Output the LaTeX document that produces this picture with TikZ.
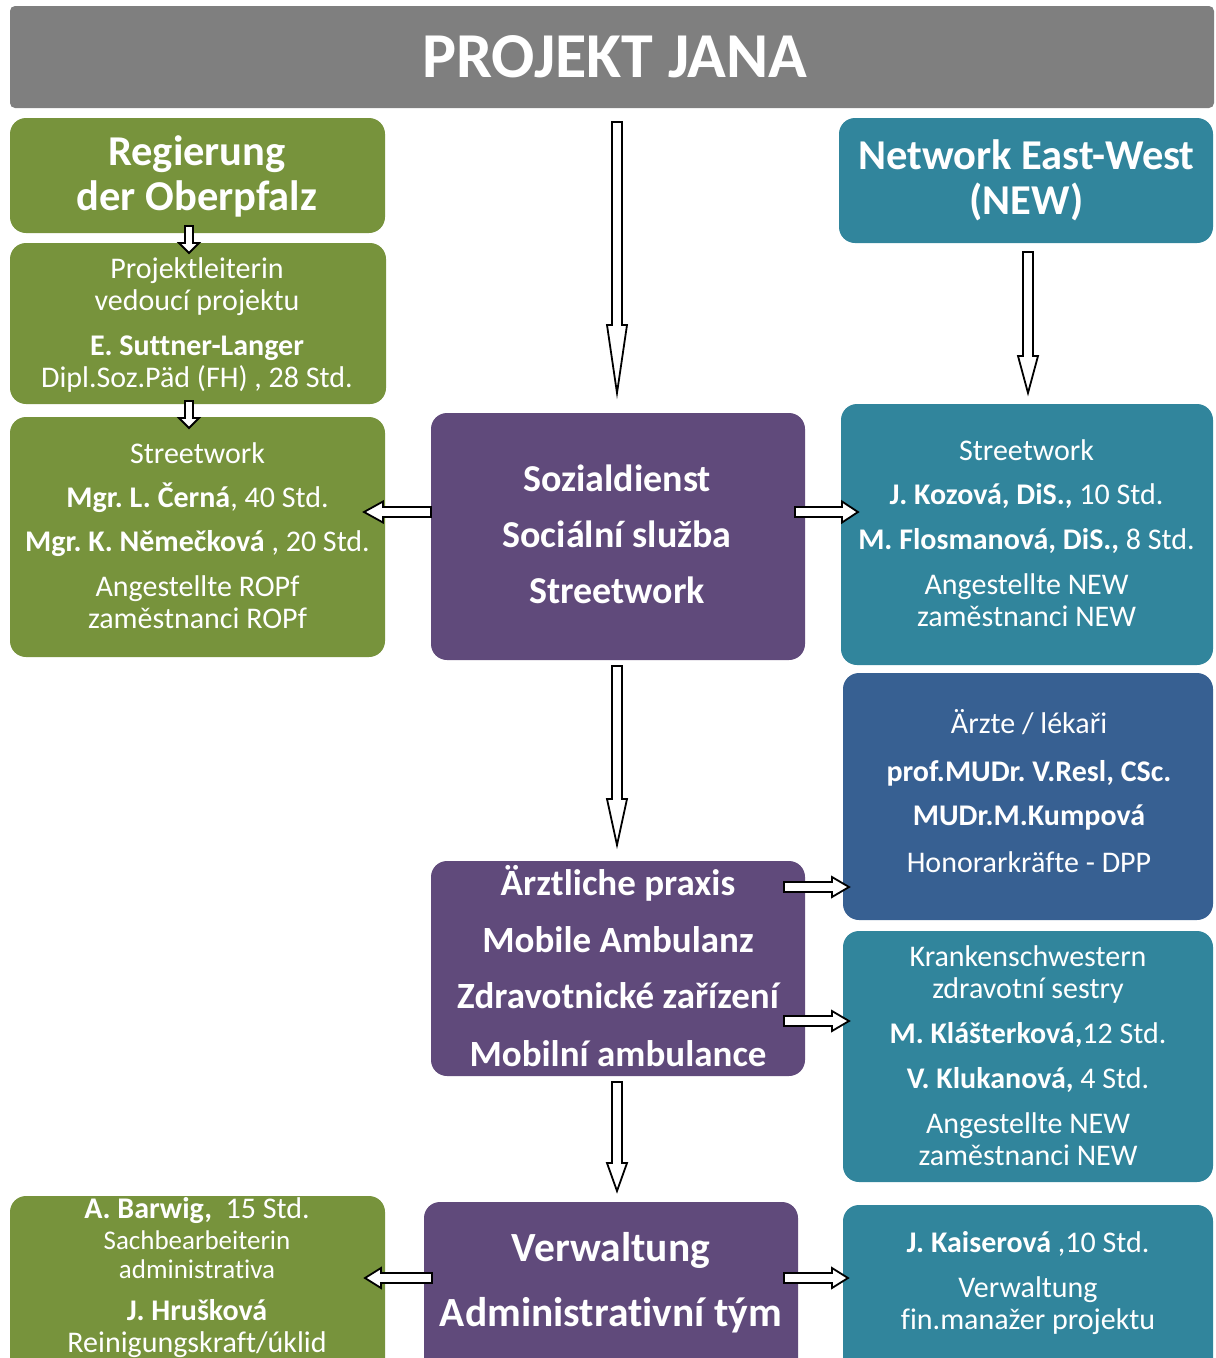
\documentclass[tikz,border=0pt]{standalone}
\usepackage{fontspec}
\setmainfont{Carlito}[Ligatures=NoCommon]
\usetikzlibrary{calc}
\definecolor{cgray}{HTML}{7F7F7F}
\definecolor{cgreen}{HTML}{77933C}
\definecolor{cpurple}{HTML}{604A7B}
\definecolor{cteal}{HTML}{31859C}
\definecolor{cblue}{HTML}{376092}
\tikzset{
  box/.style={rectangle, rounded corners=16pt, inner sep=0pt, draw=none},
  txt/.style={text=white, anchor=base, inner sep=0pt},
  body/.style={font=\fontsize{30}{33}\selectfont},
  small/.style={font=\fontsize{27}{30}\selectfont},
  head/.style={font=\fontsize{42.5}{46}\selectfont\bfseries},
  arr/.style={draw=black, fill=white, line width=1.8pt, line join=miter},
}
\newcommand\blockarrow[5]{%
  \coordinate (#1#2h) at ($(#2)!#5!(#1)$);
  \draw[arr] ($(#1)!#3!90:(#2)$) -- ($(#1#2h)!#3!90:(#2)$) -- ($(#1#2h)!#4!90:(#2)$) -- (#2)
    -- ($(#1#2h)!#4!-90:(#2)$) -- ($(#1#2h)!#3!-90:(#2)$) -- ($(#1)!#3!-90:(#2)$) -- cycle;}
\begin{document}
\frenchspacing
\begin{tikzpicture}[x=1pt,y=-1pt]
\useasboundingbox (0,0) rectangle (1216,1358);
\clip (0,0) rectangle (1216,1358);
% boxes
\node[box, rounded corners=5pt, fill=cgray, minimum width=1204pt, minimum height=102pt] (title) at (612,57) {};
\node[box, fill=cgreen, minimum width=375pt, minimum height=115pt] (g1) at (197.5,175.5) {};
\node[box, fill=cgreen, minimum width=376pt, minimum height=161pt] (g2) at (198,323.5) {};
\node[box, fill=cgreen, minimum width=375pt, minimum height=240pt] (g3) at (197.5,537) {};
\node[box, fill=cpurple, minimum width=374pt, minimum height=247pt] (p1) at (618,536.5) {};
\node[box, fill=cteal, minimum width=374pt, minimum height=125pt] (nw) at (1026,180.5) {};
\node[box, fill=cteal, minimum width=372pt, minimum height=261pt] (t2) at (1027,534.5) {};
\node[box, fill=cblue, minimum width=370pt, minimum height=247pt] (bl) at (1028,796.5) {};
\node[box, fill=cteal, minimum width=370pt, minimum height=251pt] (t3) at (1028,1056.5) {};
\node[box, fill=cpurple, minimum width=374pt, minimum height=215pt] (p2) at (618,968.5) {};
\node[box, fill=cpurple, minimum width=374pt, minimum height=178pt] (p3) at (611,1291) {};
\node[box, fill=cgreen, minimum width=375pt, minimum height=184pt] (g4) at (197.5,1288) {};
\node[box, fill=cteal, minimum width=370pt, minimum height=175pt] (t4) at (1028,1292.5) {};
% texts
\node[txt, font=\fontsize{64}{70}\selectfont\bfseries] (tt) at (615,77) {PROJEKT JANA};
\node[txt, head] (g1a) at (197,165) {Regierung};
\node[txt, head] (g1b) at (197,210) {der Oberpfalz};
\node[txt, body] (g2a) at (197,278) {Projektleiterin};
\node[txt, body] (g2b) at (197,310) {vedoucí projektu};
\node[txt, body] (g2c) at (197,355) {\bfseries E. Suttner-Langer};
\node[txt, body] (g2d) at (197,387) {Dipl.Soz.Päd (FH) , 28 Std.};
\node[txt, body] (g3a) at (197.5,463) {Streetwork};
\node[txt, body] (g3b) at (197.5,507) {{\bfseries Mgr. L. Černá}, 40 Std.};
\node[txt, body] (g3c) at (197.5,551) {{\bfseries Mgr. K. Němečková} , 20 Std.};
\node[txt, body] (g3d) at (197.5,596) {Angestellte ROPf};
\node[txt, body] (g3e) at (197.5,628) {zaměstnanci ROPf};
\node[txt, font=\fontsize{38}{44}\selectfont\bfseries] (p1a) at (617,491) {Sozialdienst};
\node[txt, font=\fontsize{38}{44}\selectfont\bfseries] (p1b) at (617,547) {Sociální služba};
\node[txt, font=\fontsize{38}{44}\selectfont\bfseries] (p1c) at (617,603) {Streetwork};
\node[txt, head] (nwa) at (1026.5,169) {Network East-West};
\node[txt, head] (nwb) at (1026.5,214) {(NEW)};
\node[txt, body] (t2a) at (1026.5,460) {Streetwork};
\node[txt, body] (t2b) at (1026.5,504) {{\bfseries J. Kozová, DiS.,} 10 Std.};
\node[txt, body] (t2c) at (1026.5,549) {{\bfseries M. Flosmanová, DiS.,} 8 Std.};
\node[txt, body] (t2d) at (1026.5,594) {Angestellte NEW};
\node[txt, body] (t2e) at (1026.5,626) {zaměstnanci NEW};
\node[txt, body] (bla) at (1029,733) {Ärzte / lékaři};
\node[txt, body] (blb) at (1029,781) {\bfseries prof.MUDr. V.Resl, CSc.};
\node[txt, body] (blc) at (1029,825) {\bfseries MUDr.M.Kumpová};
\node[txt, body] (bld) at (1029,872) {Honorarkräfte - DPP};
\node[txt, body] (t3a) at (1028,966) {Krankenschwestern};
\node[txt, body] (t3b) at (1028,998) {zdravotní sestry};
\node[txt, body] (t3c) at (1028,1043) {{\bfseries M. Klášterková,}12 Std.};
\node[txt, body] (t3d) at (1028,1088) {{\bfseries V. Klukanová,} 4 Std.};
\node[txt, body] (t3e) at (1028,1133) {Angestellte NEW};
\node[txt, body] (t3f) at (1028,1165) {zaměstnanci NEW};
\node[txt, font=\fontsize{37}{44}\selectfont\bfseries] (p2a) at (618,895) {Ärztliche praxis};
\node[txt, font=\fontsize{37}{44}\selectfont\bfseries] (p2b) at (618,952) {Mobile Ambulanz};
\node[txt, font=\fontsize{37}{44}\selectfont\bfseries] (p2c) at (618,1008) {Zdravotnické zařízení};
\node[txt, font=\fontsize{37}{44}\selectfont\bfseries] (p2d) at (618,1066) {Mobilní ambulance};
\node[txt, font=\fontsize{41.5}{46}\selectfont\bfseries] (p3a) at (611,1261) {Verwaltung};
\node[txt, font=\fontsize{41.5}{46}\selectfont\bfseries] (p3b) at (611,1326) {Administrativní tým};
\node[txt, body] (g4a) at (197,1218) {{\bfseries A. Barwig,}\ \ 15 Std.};
\node[txt, small] (g4b) at (197,1249) {Sachbearbeiterin};
\node[txt, small] (g4c) at (197,1278) {administrativa};
\node[txt, body] (g4d) at (197,1320) {\bfseries J. Hrušková};
\node[txt, body] (g4e) at (197,1352) {Reinigungskraft/úklid};
\node[txt, body] (t4a) at (1028,1252) {{\bfseries J. Kaiserová} ,10 Std.};
\node[txt, body] (t4b) at (1028,1297) {Verwaltung};
\node[txt, body] (t4c) at (1028,1329) {fin.manažer projektu};
% arrow end points
\coordinate (a1s) at (617,122);  \coordinate (a1t) at (617,393);
\coordinate (a2s) at (1028,252); \coordinate (a2t) at (1028,393);
\coordinate (a3s) at (617,666);  \coordinate (a3t) at (617,845);
\coordinate (a4s) at (617,1082); \coordinate (a4t) at (617,1191);
\coordinate (a5s) at (189,226);  \coordinate (a5t) at (189,253);
\coordinate (a6s) at (189,401);  \coordinate (a6t) at (189,428);
\coordinate (a7s) at (431,512);  \coordinate (a7t) at (364,512);
\coordinate (a8s) at (795,512);  \coordinate (a8t) at (858,512);
\coordinate (a9s) at (784,887);  \coordinate (a9t) at (849,887);
\coordinate (b1s) at (784,1021); \coordinate (b1t) at (849,1021);
\coordinate (b2s) at (432,1278); \coordinate (b2t) at (365,1278);
\coordinate (b3s) at (784,1278); \coordinate (b3t) at (848,1278);
% arrows
\blockarrow{a1s}{a1t}{5pt}{10pt}{68pt}
\blockarrow{a2s}{a2t}{5pt}{10pt}{37pt}
\blockarrow{a3s}{a3t}{5pt}{10pt}{46pt}
\blockarrow{a4s}{a4t}{5pt}{10pt}{28pt}
\blockarrow{a5s}{a5t}{4pt}{10pt}{10pt}
\blockarrow{a6s}{a6t}{4pt}{10pt}{10pt}
\blockarrow{a7s}{a7t}{5pt}{10.5pt}{19pt}
\blockarrow{a8s}{a8t}{5pt}{10.5pt}{16pt}
\blockarrow{a9s}{a9t}{5pt}{10pt}{17pt}
\blockarrow{b1s}{b1t}{5pt}{10pt}{17pt}
\blockarrow{b2s}{b2t}{5pt}{10pt}{16pt}
\blockarrow{b3s}{b3t}{5pt}{10pt}{16pt}
\end{tikzpicture}
\end{document}
